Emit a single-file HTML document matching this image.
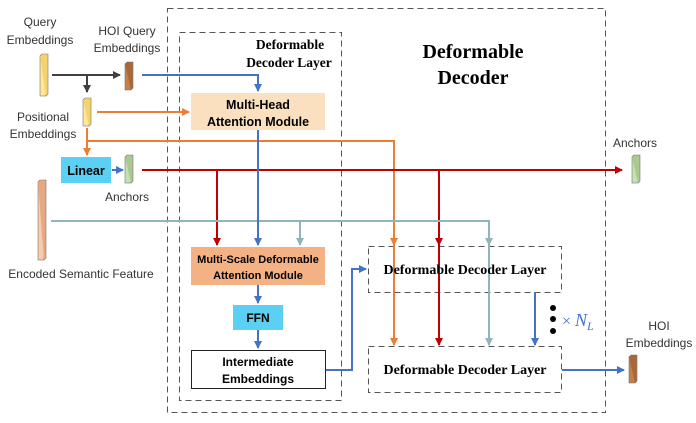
<!DOCTYPE html>
<html><head><meta charset="utf-8"><style>
html,body{margin:0;padding:0;background:#fff;}
svg{display:block;}
.s{font-family:"Liberation Sans",sans-serif;}
.r{font-family:"Liberation Serif",serif;font-weight:bold;}
</style></head><body>
<svg width="696" height="423" viewBox="0 0 696 423" xmlns="http://www.w3.org/2000/svg">
<defs>
<marker id="aB" markerWidth="8" markerHeight="8" refX="7" refY="4" orient="auto" markerUnits="userSpaceOnUse"><path d="M0,0 L8,4 L0,8 z" fill="#4472c4"/></marker>
<marker id="aO" markerWidth="8" markerHeight="8" refX="7" refY="4" orient="auto" markerUnits="userSpaceOnUse"><path d="M0,0 L8,4 L0,8 z" fill="#ed7d31"/></marker>
<marker id="aR" markerWidth="8" markerHeight="8" refX="7" refY="4" orient="auto" markerUnits="userSpaceOnUse"><path d="M0,0 L8,4 L0,8 z" fill="#c00000"/></marker>
<marker id="aT" markerWidth="8" markerHeight="8" refX="7" refY="4" orient="auto" markerUnits="userSpaceOnUse"><path d="M0,0 L8,4 L0,8 z" fill="#8fb4bb"/></marker>
<marker id="aG" markerWidth="8" markerHeight="8" refX="7" refY="4" orient="auto" markerUnits="userSpaceOnUse"><path d="M0,0 L8,4 L0,8 z" fill="#404040"/></marker>
</defs>

<!-- dashed boxes -->
<rect x="167.5" y="8.5" width="438" height="404" fill="none" stroke="#555" stroke-dasharray="6,4"/>
<rect x="179.5" y="32.5" width="162" height="368" fill="none" stroke="#555" stroke-dasharray="6,4"/>
<rect x="368.5" y="246.5" width="193" height="46" fill="none" stroke="#555" stroke-dasharray="6,4"/>
<rect x="368.5" y="346.5" width="193" height="46" fill="none" stroke="#555" stroke-dasharray="6,4"/>

<text class="r" x="473" y="58" font-size="20" text-anchor="middle">Deformable</text>
<text class="r" x="473" y="84" font-size="20" text-anchor="middle">Decoder</text>
<text class="r" x="290" y="49" font-size="13.5" text-anchor="middle">Deformable</text>
<text class="r" x="289" y="67" font-size="13.5" text-anchor="middle">Decoder Layer</text>

<!-- lines -->
<line x1="52" y1="75" x2="120" y2="75" stroke="#404040" stroke-width="2" marker-end="url(#aG)"/>
<line x1="87" y1="75" x2="87" y2="92" stroke="#404040" stroke-width="2" marker-end="url(#aG)"/>
<polyline points="142,75 258,75 258,91" fill="none" stroke="#4472c4" stroke-width="2" marker-end="url(#aB)"/>
<line x1="97" y1="112" x2="189" y2="112" stroke="#ed7d31" stroke-width="2" marker-end="url(#aO)"/>
<line x1="87" y1="128" x2="87" y2="155" stroke="#ed7d31" stroke-width="2" marker-end="url(#aO)"/>
<polyline points="87,141 394,141 394,245" fill="none" stroke="#ed7d31" stroke-width="2" marker-end="url(#aO)"/>
<line x1="394" y1="244" x2="394" y2="345" stroke="#ed7d31" stroke-width="2" marker-end="url(#aO)"/>
<line x1="112" y1="170" x2="123" y2="170" stroke="#4472c4" stroke-width="2" marker-end="url(#aB)"/>
<line x1="142" y1="170" x2="622" y2="170" stroke="#c00000" stroke-width="2" marker-end="url(#aR)"/>
<line x1="217" y1="170" x2="217" y2="245" stroke="#c00000" stroke-width="2" marker-end="url(#aR)"/>
<line x1="439" y1="170" x2="439" y2="245" stroke="#c00000" stroke-width="2" marker-end="url(#aR)"/>
<line x1="439" y1="244" x2="439" y2="345" stroke="#c00000" stroke-width="2" marker-end="url(#aR)"/>
<polyline points="51,221 489,221 489,245" fill="none" stroke="#8fb4bb" stroke-width="2" marker-end="url(#aT)"/>
<line x1="300" y1="221" x2="300" y2="245" stroke="#8fb4bb" stroke-width="2" marker-end="url(#aT)"/>
<line x1="489" y1="244" x2="489" y2="345" stroke="#8fb4bb" stroke-width="2" marker-end="url(#aT)"/>
<line x1="258" y1="130" x2="258" y2="245" stroke="#4472c4" stroke-width="2" marker-end="url(#aB)"/>
<line x1="258" y1="285" x2="258" y2="303" stroke="#4472c4" stroke-width="2" marker-end="url(#aB)"/>
<line x1="258" y1="330" x2="258" y2="348" stroke="#4472c4" stroke-width="2" marker-end="url(#aB)"/>
<polyline points="326,370 352,370 352,269 366,269" fill="none" stroke="#4472c4" stroke-width="2" marker-end="url(#aB)"/>
<line x1="535" y1="292" x2="535" y2="345" stroke="#4472c4" stroke-width="2" marker-end="url(#aB)"/>
<line x1="562" y1="370" x2="624" y2="370" stroke="#4472c4" stroke-width="2" marker-end="url(#aB)"/>

<!-- boxes -->
<rect x="191" y="93" width="134" height="37" fill="#fbe0bf"/>
<text class="s" x="258" y="109" font-size="12.5" font-weight="bold" text-anchor="middle">Multi-Head</text>
<text class="s" x="258" y="126" font-size="12.5" font-weight="bold" text-anchor="middle">Attention Module</text>
<rect x="191" y="247" width="134" height="38" fill="#f4b183"/>
<text class="s" x="258" y="263" font-size="11" font-weight="bold" text-anchor="middle">Multi-Scale Deformable</text>
<text class="s" x="258" y="279" font-size="11" font-weight="bold" text-anchor="middle">Attention Module</text>
<rect x="233" y="305" width="50" height="25" fill="#5bd0f3"/>
<text class="s" x="258" y="322" font-size="12" font-weight="bold" text-anchor="middle">FFN</text>
<rect x="191.5" y="350.5" width="134" height="38" fill="#fff" stroke="#222"/>
<text class="s" x="258" y="366" font-size="12" font-weight="bold" text-anchor="middle">Intermediate</text>
<text class="s" x="258" y="383" font-size="12" font-weight="bold" text-anchor="middle">Embeddings</text>
<rect x="61" y="157" width="50" height="26" fill="#5bd0f3"/>
<text class="s" x="86" y="175" font-size="12.5" font-weight="bold" text-anchor="middle">Linear</text>
<text class="r" x="465" y="274" font-size="14" text-anchor="middle">Deformable Decoder Layer</text>
<text class="r" x="465" y="374" font-size="14" text-anchor="middle">Deformable Decoder Layer</text>

<!-- bars -->
<g stroke="#777" stroke-width="0.6">
<rect x="40" y="56" width="6" height="40" fill="#ffe699"/><path d="M40,56 l2,-2 h6 v40 l-2,2" fill="#f4d36e"/>
<rect x="125" y="64" width="6" height="26" fill="#c5804a"/><path d="M125,64 l2,-2 h6 v26 l-2,2" fill="#a9683a"/>
<rect x="83" y="100" width="6" height="26" fill="#ffe699"/><path d="M83,100 l2,-2 h6 v26 l-2,2" fill="#f4d36e"/>
<rect x="125" y="157" width="6" height="26" fill="#c5e0b4"/><path d="M125,157 l2,-2 h6 v26 l-2,2" fill="#a9c98f"/>
<rect x="38" y="182" width="6" height="78" fill="#f8cbad"/><path d="M38,182 l2,-2 h6 v78 l-2,2" fill="#e8a882"/>
<rect x="632" y="157" width="6" height="26" fill="#c5e0b4"/><path d="M632,157 l2,-2 h6 v26 l-2,2" fill="#a9c98f"/>
<rect x="629" y="357" width="6" height="26" fill="#c5804a"/><path d="M629,357 l2,-2 h6 v26 l-2,2" fill="#a9683a"/>
</g>

<!-- labels -->
<g class="s" font-size="12" fill="#333" text-anchor="middle">
<text x="40" y="26">Query</text><text x="40" y="44">Embeddings</text>
<text x="127" y="35">HOI Query</text><text x="127" y="52">Embeddings</text>
<text x="43" y="121">Positional</text><text x="43" y="138">Embeddings</text>
<text x="127" y="201">Anchors</text>
<text x="81" y="278">Encoded Semantic Feature</text>
<text x="635" y="147">Anchors</text>
<text x="659" y="330">HOI</text><text x="659" y="347">Embeddings</text>
</g>
<circle cx="553" cy="308" r="3" fill="#000"/><circle cx="553" cy="319" r="3" fill="#000"/><circle cx="553" cy="331" r="3" fill="#000"/>
<text x="562" y="326" font-family="Liberation Serif,serif" font-size="16" fill="#4472c4">× <tspan font-style="italic" font-size="18">N</tspan><tspan font-style="italic" font-size="12" dy="4">L</tspan></text>
</svg>
</body></html>
